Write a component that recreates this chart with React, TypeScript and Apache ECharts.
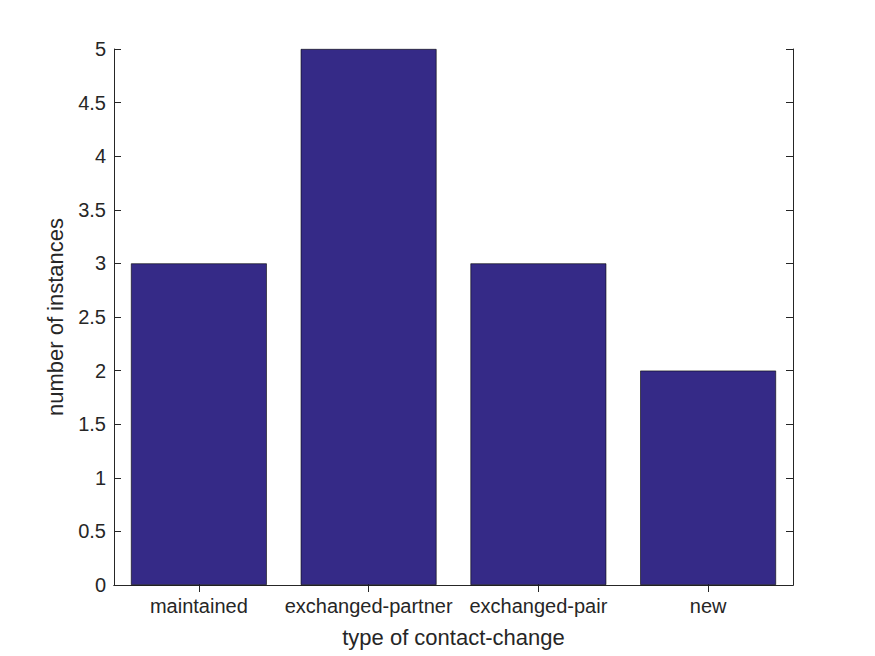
import React, { useEffect, useRef } from "react";
import * as echarts from "echarts";

const categories = ["maintained", "exchanged-partner", "exchanged-pair", "new"];
const counts = [3, 5, 3, 2];

const FONT = "Liberation Sans, Arial, Helvetica, sans-serif";
const TXT = "#262626";

export default function App() {
  const ref = useRef<HTMLDivElement>(null);
  useEffect(() => {
    const chart = echarts.init(ref.current!, null, { renderer: "svg" });
    const axisLine = { show: true, lineStyle: { color: TXT, width: 1 } };
    const axisTick = { show: true, inside: true, length: 7, lineStyle: { color: TXT, width: 1 } };
    chart.setOption({
      animation: false,
      backgroundColor: "#ffffff",
      grid: { left: 114, right: 82, top: 49, bottom: 71 },
      xAxis: [
        {
          type: "category",
          data: categories,
          position: "bottom",
          axisLine,
          axisTick: { ...axisTick, alignWithLabel: true, interval: 0 },
          axisLabel: { color: TXT, fontFamily: FONT, fontSize: 20, margin: 11, interval: 0, hideOverlap: false },
          name: "type of contact-change",
          nameLocation: "middle",
          nameGap: 41,
          nameTextStyle: { color: TXT, fontFamily: FONT, fontSize: 22 },
          splitLine: { show: false },
        },
        {
          type: "category",
          data: categories,
          position: "top",
          axisLine,
          axisTick: { ...axisTick, alignWithLabel: true, interval: 0 },
          axisLabel: { show: false },
          splitLine: { show: false },
        },
      ],
      yAxis: [
        {
          type: "value",
          min: 0,
          max: 5,
          interval: 0.5,
          position: "left",
          axisLine,
          axisTick,
          axisLabel: { color: TXT, fontFamily: FONT, fontSize: 20, margin: 8 },
          name: "number of instances",
          nameLocation: "middle",
          nameGap: 48,
          nameTextStyle: { color: TXT, fontFamily: FONT, fontSize: 22 },
          splitLine: { show: false },
        },
        {
          type: "value",
          min: 0,
          max: 5,
          interval: 0.5,
          position: "right",
          axisLine,
          axisTick,
          axisLabel: { show: false },
          splitLine: { show: false },
        },
      ],
      series: [
        {
          type: "bar",
          data: counts,
          barWidth: "80%",
          itemStyle: { color: "#352a87", borderColor: "#000000", borderWidth: 0.6 },
        },
      ],
    });
    return () => chart.dispose();
  }, []);
  return <div ref={ref} style={{ width: 875, height: 656, position: "absolute", left: 0, top: 0 }} />;
}
